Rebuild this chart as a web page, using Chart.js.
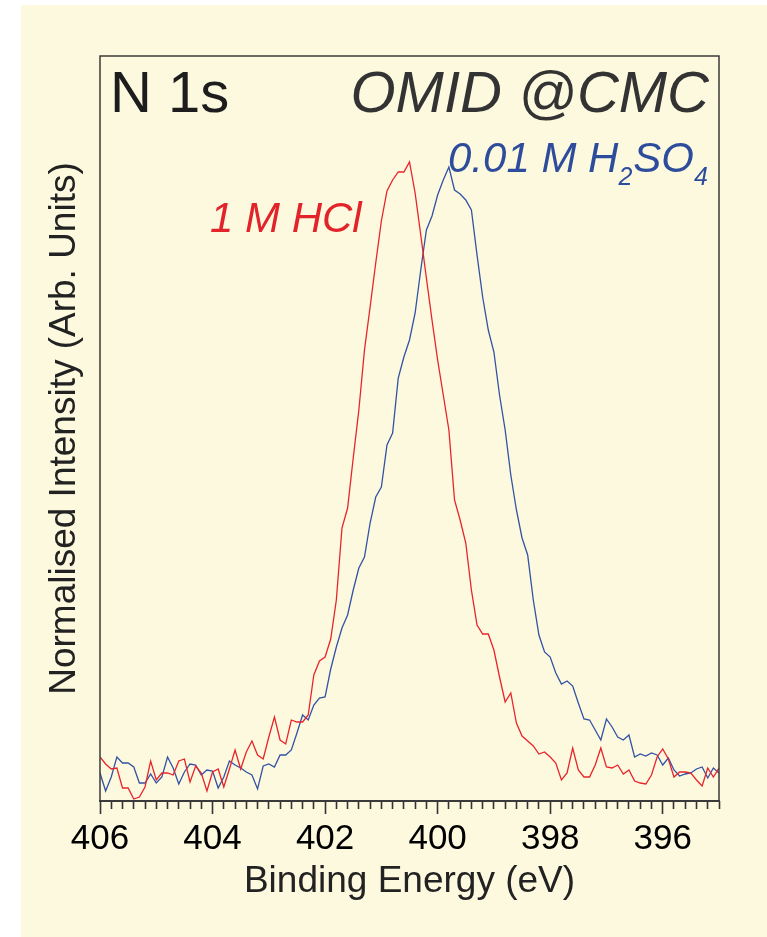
<!DOCTYPE html>
<html>
<head>
<meta charset="utf-8">
<script src="https://cdn.jsdelivr.net/npm/chart.js@4.4.0/dist/chart.umd.min.js"></script>
<style>
  html, body { margin: 0; padding: 0; background: #fff; }
  #panel { position: absolute; left: 21px; top: 5px; width: 746px; height: 932px; background: #fdf9df; }
  canvas { display: block; }
</style>
</head>
<body>
<div id="panel"><canvas id="xps-chart" width="746" height="932"></canvas></div>
<script>
// N 1s XPS spectra, binding energy in eV (0.1 eV steps)
var energies = [
  406.0, 405.9, 405.8, 405.7, 405.6, 405.5, 405.4, 405.3, 405.2, 405.1,
  405.0, 404.9, 404.8, 404.7, 404.6, 404.5, 404.4, 404.3, 404.2, 404.1,
  404.0, 403.9, 403.8, 403.7, 403.6, 403.5, 403.4, 403.3, 403.2, 403.1,
  403.0, 402.9, 402.8, 402.7, 402.6, 402.5, 402.4, 402.3, 402.2, 402.1,
  402.0, 401.9, 401.8, 401.7, 401.6, 401.5, 401.4, 401.3, 401.2, 401.1,
  401.0, 400.9, 400.8, 400.7, 400.6, 400.5, 400.4, 400.3, 400.2, 400.1,
  400.0, 399.9, 399.8, 399.7, 399.6, 399.5, 399.4, 399.3, 399.2, 399.1,
  399.0, 398.9, 398.8, 398.7, 398.6, 398.5, 398.4, 398.3, 398.2, 398.1,
  398.0, 397.9, 397.8, 397.7, 397.6, 397.5, 397.4, 397.3, 397.2, 397.1,
  397.0, 396.9, 396.8, 396.7, 396.6, 396.5, 396.4, 396.3, 396.2, 396.1,
  396.0, 395.9, 395.8, 395.7, 395.6, 395.5, 395.4, 395.3, 395.2, 395.1,
  395.0
];

// 1 M HCl (arb. units)
var hcl = [
  44, 37, 32, 33, 13, 13, 2, 4, 14, 40,
  21, 28, 28, 26, 40, 42, 19, 35, 28, 10,
  29, 32, 14, 32, 51, 32, 49, 60, 46, 42,
  64, 84, 61, 57, 81, 79, 79, 86, 126, 140,
  144, 162, 201, 273, 293, 343, 391, 451, 494, 538,
  580, 610, 621, 629, 629, 639, 608, 566, 523, 481,
  441, 406, 371, 301, 281, 258, 211, 176, 167, 167,
  151, 124, 99, 108, 78, 65, 60, 55, 47, 49,
  44, 38, 21, 28, 53, 31, 24, 24, 36, 53,
  34, 33, 36, 27, 31, 20, 18, 17, 26, 44,
  52, 42, 24, 29, 29, 28, 21, 15, 33, 24,
  33
];

// 0.01 M H2SO4 (arb. units)
var h2so4 = [
  28, 10, 24, 44, 38, 38, 34, 18, 18, 27,
  18, 24, 44, 33, 17, 29, 37, 36, 26, 31,
  30, 13, 24, 40, 36, 33, 29, 26, 12, 35,
  37, 34, 46, 46, 51, 68, 86, 81, 96, 103,
  104, 132, 154, 173, 186, 211, 233, 244, 278, 304,
  314, 356, 368, 423, 444, 461, 488, 531, 571, 585,
  606, 621, 634, 611, 607, 601, 591, 546, 504, 471,
  449, 406, 371, 326, 291, 263, 246, 201, 166, 149,
  144, 128, 117, 120, 115, 98, 82, 81, 71, 61,
  82, 74, 64, 61, 66, 44, 47, 45, 48, 46,
  36, 43, 31, 25, 27, 28, 32, 34, 23, 33,
  28
];

var FONT = '"Liberation Sans", Arial, Helvetica, sans-serif';
var RED = '#e8242b';
var BLUE = '#3252a4';

function pts(ys) {
  return energies.map(function (e, i) { return { x: e, y: ys[i] }; });
}

function isMajor(v) {
  return Number.isInteger(v) && v % 2 === 0;
}

// frame around the plot + the text annotations
var decor = {
  id: 'decor',
  afterDraw: function (chart) {
    var c = chart.ctx, a = chart.chartArea;
    c.save();
    c.strokeStyle = '#3a3a3a';
    c.lineWidth = 1.5;
    c.beginPath();
    c.moveTo(a.left, a.bottom);
    c.lineTo(a.left, a.top);
    c.lineTo(a.right, a.top);
    c.lineTo(a.right, a.bottom);
    c.stroke();
    c.lineWidth = 2;
    c.beginPath();
    c.moveTo(a.left - 1, a.bottom);
    c.lineTo(a.right + 1, a.bottom);
    c.stroke();

    c.textBaseline = 'alphabetic';
    c.textAlign = 'left';
    c.fillStyle = '#1d1d1d';
    c.font = '58px ' + FONT;
    c.fillText('N 1s', a.left + 10, a.top + 56);

    c.textAlign = 'right';
    c.fillStyle = '#333';
    c.font = 'italic 58px ' + FONT;
    c.fillText('OMID @CMC', a.right - 10, a.top + 56);

    c.textAlign = 'left';
    c.fillStyle = '#e2232a';
    c.font = 'italic 42px ' + FONT;
    c.fillText('1 M HCl', a.left + 110, a.top + 176);

    // 0.01 M H2SO4 with subscripts
    var x = a.left + 348, y = a.top + 116;
    c.fillStyle = '#2e4c9c';
    var parts = [['0.01 M H', 0], ['2', 1], ['SO', 0], ['4', 1]];
    parts.forEach(function (p) {
      c.font = p[1] ? 'italic 25px ' + FONT : 'italic 42px ' + FONT;
      c.fillText(p[0], x, p[1] ? y + 13 : y);
      x += c.measureText(p[0]).width + (p[1] ? 1 : 0);
    });
    c.restore();
  }
};

var ctx = document.getElementById('xps-chart').getContext('2d');
var myChart = new Chart(ctx, {
  type: 'line',
  data: {
    datasets: [
      { label: '1 M HCl', data: pts(hcl), borderColor: RED, borderWidth: 1.3, pointRadius: 0, tension: 0, fill: false },
      { label: '0.01 M H2SO4', data: pts(h2so4), borderColor: BLUE, borderWidth: 1.3, pointRadius: 0, tension: 0, fill: false }
    ]
  },
  options: {
    responsive: false,
    animation: false,
    devicePixelRatio: 1,
    layout: { padding: { left: 0, top: 51, right: 48, bottom: 33 } },
    plugins: {
      legend: { display: false },
      tooltip: { enabled: false }
    },
    scales: {
      x: {
        type: 'linear',
        reverse: true,
        min: 395,
        max: 406,
        ticks: {
          stepSize: 0.2,
          maxTicksLimit: 100,
          autoSkip: false,
          maxRotation: 0,
          padding: 4,
          color: '#000',
          font: { family: FONT, size: 35 },
          callback: function (v) { return isMajor(v) ? String(v) : ''; }
        },
        grid: {
          drawOnChartArea: false,
          tickLength: 13,
          tickWidth: 1.6,
          tickColor: '#333',
          tickBorderDash: function (ctx) { return isMajor(ctx.tick.value) ? [] : [8, 60]; }
        },
        border: { display: false },
        title: {
          display: true,
          text: 'Binding Energy (eV)',
          color: '#222',
          font: { family: FONT, size: 37 },
          padding: { top: 0, bottom: 0 }
        },
        afterFit: function (scale) { scale.height = 103; }
      },
      y: {
        min: 0,
        max: 745,
        ticks: { display: false },
        grid: { display: false },
        border: { display: false },
        title: {
          display: true,
          text: 'Normalised Intensity (Arb. Units)',
          color: '#222',
          font: { family: FONT, size: 37 },
          padding: { top: 22, bottom: 0 }
        },
        afterFit: function (scale) { scale.width = 79; }
      }
    }
  },
  plugins: [decor]
});
</script>
</body>
</html>
